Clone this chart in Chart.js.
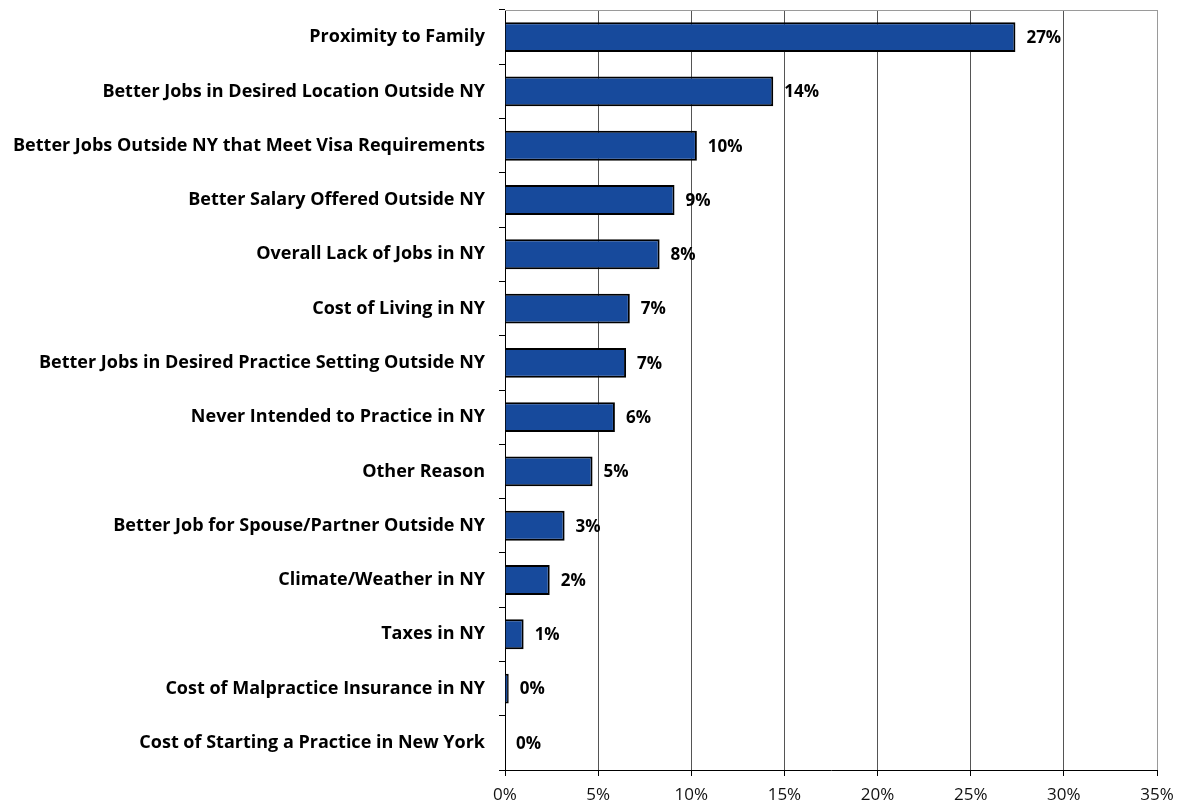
<!DOCTYPE html>
<html>
<head>
<meta charset="utf-8">
<script src="https://cdn.jsdelivr.net/npm/chart.js@4/dist/chart.umd.min.js"></script>
<style>
  html, body { margin: 0; padding: 0; background: #fff; }
  #wrap { width: 1178px; height: 804px; }
</style>
</head>
<body>
<div id="wrap"><canvas id="chart" width="1178" height="804"></canvas></div>
<script>
// Reasons for leaving New York (share of respondents, %)
const categories = [
  'Proximity to Family',
  'Better Jobs in Desired Location Outside NY',
  'Better Jobs Outside NY that Meet Visa Requirements',
  'Better Salary Offered Outside NY',
  'Overall Lack of Jobs in NY',
  'Cost of Living in NY',
  'Better Jobs in Desired Practice Setting Outside NY',
  'Never Intended to Practice in NY',
  'Other Reason',
  'Better Job for Spouse/Partner Outside NY',
  'Climate/Weather in NY',
  'Taxes in NY',
  'Cost of Malpractice Insurance in NY',
  'Cost of Starting a Practice in New York'
];
const shares = [27.4, 14.4, 10.3, 9.1, 8.3, 6.7, 6.5, 5.9, 4.7, 3.2, 2.4, 1.0, 0.2, 0.0];
const xTicks = [0, 5, 10, 15, 20, 25, 30, 35];

const FONT = "'Open Sans', 'DejaVu Sans', sans-serif";

// Value labels to the right of each bar
const barValueLabels = {
  id: 'barValueLabels',
  afterDatasetsDraw(chart) {
    const ctx = chart.ctx;
    const meta = chart.getDatasetMeta(0);
    ctx.save();
    ctx.font = 'bold 17px ' + FONT;
    ctx.fillStyle = '#000';
    ctx.textAlign = 'left';
    ctx.textBaseline = 'middle';
    meta.data.forEach((bar, i) => {
      ctx.fillText(Math.round(shares[i]) + '%', bar.x + 11, bar.y + 1);
    });
    ctx.restore();
  }
};

// Light frame along the top of the plot area
const topFrame = {
  id: 'topFrame',
  beforeDatasetsDraw(chart) {
    const { ctx, chartArea } = chart;
    ctx.save();
    ctx.strokeStyle = '#9a9a9a';
    ctx.lineWidth = 1;
    ctx.beginPath();
    ctx.moveTo(chartArea.left, chartArea.top + 0.5);
    ctx.lineTo(chartArea.right, chartArea.top + 0.5);
    ctx.stroke();
    ctx.restore();
  }
};

new Chart(document.getElementById('chart'), {
  type: 'bar',
  data: {
    labels: categories,
    datasets: [{
      data: shares,
      backgroundColor: '#174a9c',
      borderColor: '#000',
      borderWidth: 2,
      barPercentage: 0.55,
      categoryPercentage: 1.0
    }]
  },
  options: {
    indexAxis: 'y',
    responsive: false,
    animation: false,
    layout: { padding: { top: 10, right: 21, left: 0, bottom: 0 } },
    plugins: {
      legend: { display: false },
      tooltip: { enabled: false }
    },
    scales: {
      x: {
        min: 0,
        max: 35,
        afterBuildTicks(scale) {
          scale.ticks = xTicks.map(v => ({ value: v }));
        },
        afterFit(scale) {
          scale.height = 34;
          scale.paddingLeft = 0;
          scale.paddingRight = 0;
        },
        grid: {
          color: ctx => (ctx.tick && ctx.tick.value === 35) ? '#9a9a9a' : '#555',
          lineWidth: 1,
          drawTicks: true,
          tickLength: 6,
          tickColor: '#000'
        },
        border: { color: '#000', width: 1 },
        ticks: {
          color: '#111',
          font: { family: FONT, size: 17 },
          padding: 9,
          callback: v => v + '%'
        }
      },
      y: {
        afterFit(scale) {
          scale.width = 505;
          scale.paddingTop = 0;
          scale.paddingBottom = 0;
        },
        grid: {
          offset: true,
          drawOnChartArea: false,
          drawTicks: true,
          tickLength: 6,
          color: '#000'
        },
        border: { color: '#000', width: 1 },
        ticks: {
          color: '#000',
          font: { family: FONT, size: 18, weight: 'bold' },
          padding: 14
        }
      }
    }
  },
  plugins: [barValueLabels, topFrame]
});
</script>
</body>
</html>
